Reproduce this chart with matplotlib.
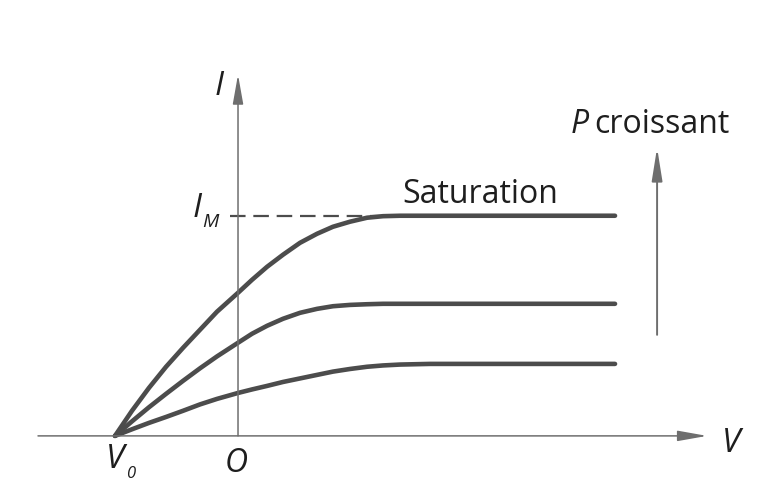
import matplotlib
matplotlib.use('Agg')
import matplotlib.pyplot as plt

plt.rcParams['font.family'] = ['Open Sans', 'DejaVu Sans']

# Curves: V in units of |V0|, I in units of I_M
v_pts = [-1.0, -0.862, -0.724, -0.585, -0.447, -0.309, -0.171, 0.0, 0.114, 0.236,
         0.366, 0.504, 0.642, 0.772, 0.911, 1.049, 1.179, 1.317, 1.561, 3.065]
i_top = [0.0, 0.114, 0.218, 0.314, 0.400, 0.482, 0.564, 0.650, 0.709, 0.768,
         0.823, 0.877, 0.918, 0.950, 0.973, 0.991, 0.998, 1.0, 1.0, 1.0]
i_mid = [0.0, 0.066, 0.130, 0.191, 0.250, 0.307, 0.361, 0.423, 0.464, 0.500,
         0.532, 0.559, 0.577, 0.589, 0.595, 0.598, 0.600, 0.600, 0.600, 0.600]
i_low = [0.0, 0.030, 0.059, 0.086, 0.114, 0.143, 0.168, 0.195, 0.211, 0.227,
         0.245, 0.261, 0.277, 0.292, 0.304, 0.314, 0.320, 0.324, 0.327, 0.327]

V0 = -1.0
I_M = 1.0
v_sat = 1.16

fig = plt.figure(figsize=(7.78, 4.83), dpi=100)
ax = fig.add_axes([0, 0, 1, 1])
ax.set_xlim(-1.935, 4.39)
ax.set_ylim(-0.214, 1.98)
ax.axis('off')

axis_col = '#6e6e6e'
curve_col = '#4c4c4c'
text_col = '#1e1e1e'
head = '-|>,head_length=1.8,head_width=0.32'

# axes with arrows
ax.annotate('', xy=(3.813, 0), xytext=(-1.626, 0),
            arrowprops=dict(arrowstyle=head, color=axis_col, lw=1.1, shrinkA=0, shrinkB=0))
ax.annotate('', xy=(0.0, 1.641), xytext=(0.0, 0),
            arrowprops=dict(arrowstyle=head, color=axis_col, lw=1.1, shrinkA=0, shrinkB=0))

# dashed saturation level
ax.plot([-0.065, v_sat], [I_M, I_M], ls=(0, (7, 3.5)), color='#4c4c4c', lw=1.6)

for i_curve in [i_top, i_mid, i_low]:
    ax.plot(v_pts, i_curve, color=curve_col, lw=3.3, solid_capstyle='round',
            solid_joinstyle='round')

# "P croissant" arrow
ax.annotate('', xy=(3.407, 1.309), xytext=(3.407, 0.459),
            arrowprops=dict(arrowstyle='-|>,head_length=2.0,head_width=0.32',
                            color=axis_col, lw=1.4, shrinkA=0, shrinkB=0))

kw = dict(color=text_col, va='baseline')
ax.text(-0.154, 1.55, 'I', style='italic', fontsize=24, ha='center', **kw)
ax.text(-0.333, 0.995, 'I', style='italic', fontsize=24, ha='center', **kw)
ax.text(-0.228, 0.95, 'M', style='italic', fontsize=14, ha='center', **kw)
ax.text(4.01, -0.073, 'V', style='italic', fontsize=24, ha='center', **kw)
ax.text(V0, -0.145, 'V', style='italic', fontsize=24, ha='center', **kw)
ax.text(-0.87, -0.19, '0', style='italic', fontsize=12, ha='center', **kw)
ax.text(-0.016, -0.164, 'O', style='italic', fontsize=23, ha='center', **kw)
ax.text(1.967, 1.059, 'Saturation', fontsize=23, ha='center', **kw)
ax.text(2.78, 1.377, 'P', style='italic', fontsize=23, ha='center', **kw)
ax.text(2.90, 1.377, 'croissant', fontsize=23, ha='left', **kw)

fig.savefig('out.png', dpi=100)
